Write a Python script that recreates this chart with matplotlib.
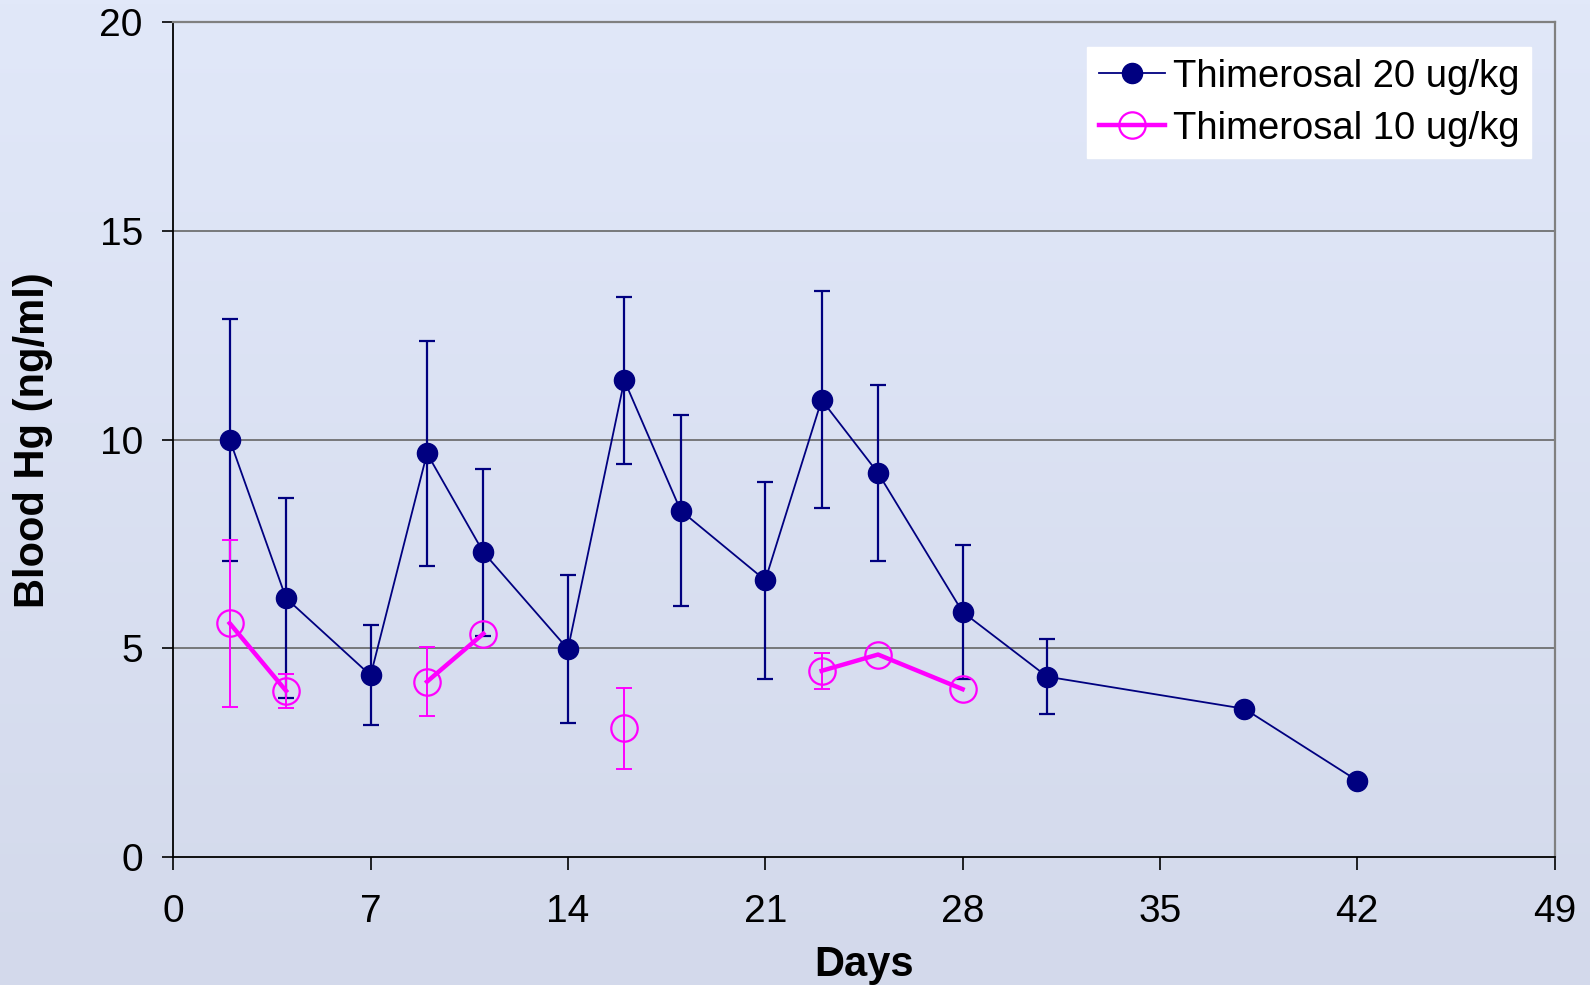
import numpy as np
import matplotlib
matplotlib.use('Agg')
import matplotlib.pyplot as plt

plt.rcParams['font.family'] = ['Liberation Sans', 'DejaVu Sans']

nan = np.nan
# Thimerosal 20 ug/kg
days_20 = [2, 4, 7, 9, 11, 14, 16, 18, 21, 23, 25, 28, 31, 38, 42]
hg_20 = [10.0, 6.2, 4.35, 9.67, 7.3, 4.98, 11.42, 8.3, 6.63, 10.95, 9.2, 5.87, 4.32, 3.55, 1.83]
err_20 = [2.9, 2.4, 1.2, 2.7, 2.0, 1.78, 2.0, 2.28, 2.36, 2.6, 2.1, 1.6, 0.9, nan, nan]

# Thimerosal 10 ug/kg
days_10 = [2, 4, 7, 9, 11, 14, 16, 18, 21, 23, 25, 28]
hg_10 = [5.6, 3.98, nan, 4.2, 5.35, nan, 3.08, nan, nan, 4.46, 4.85, 4.02]
err_10 = [2.0, 0.4, nan, 0.83, nan, nan, 0.97, nan, nan, 0.43, nan, nan]

labels = ['Thimerosal 20 ug/kg', 'Thimerosal 10 ug/kg']
x_ticks = [0, 7, 14, 21, 28, 35, 42, 49]
y_ticks = [0, 5, 10, 15, 20]

navy = '#000080'
magenta = '#FF00FF'

fig = plt.figure(figsize=(15.9, 9.85), dpi=100)

# gradient background
bg = fig.add_axes([0, 0, 1, 1], zorder=-10)
top = np.array([225, 232, 249]) / 255.0
bot = np.array([211, 217, 235]) / 255.0
t = np.linspace(0, 1, 256)[:, None]
grad = top[None, :] * (1 - t) + bot[None, :] * t
bg.imshow(grad[:, None, :], aspect='auto', extent=[0, 1, 0, 1])
bg.axis('off')

ax = fig.add_axes([0.109, 0.130, 0.8687, 0.8474])
ax.set_facecolor('none')

ax.errorbar(days_20, hg_20, yerr=err_20, fmt='none', ecolor=navy, elinewidth=1.6,
            capsize=6, capthick=1.6, zorder=3)
ax.plot(days_20, hg_20, color=navy, lw=1.3, marker='o', ms=14.5, mfc=navy, mec=navy,
        label=labels[0], zorder=4)

ax.errorbar(days_10, hg_10, yerr=err_10, fmt='none', ecolor=magenta, elinewidth=1.4,
            capsize=6, capthick=1.4, zorder=5)
ax.plot(days_10, hg_10, color=magenta, lw=3.2, marker='o', ms=19, mfc='none', mec=magenta,
        mew=1.6, label=labels[1], zorder=6)

ax.set_xlim(0, 49)
ax.set_ylim(0, 20)
ax.set_xticks(x_ticks)
ax.set_yticks(y_ticks)
ax.set_xticklabels([str(v) for v in x_ticks])
ax.set_yticklabels([str(v) for v in y_ticks])

for v in [5, 10, 15]:
    ax.axhline(v, color='#666666', lw=1.2, zorder=1)

for s in ['left', 'bottom']:
    ax.spines[s].set_color('black')
    ax.spines[s].set_linewidth(1.3)
for s in ['top', 'right']:
    ax.spines[s].set_color('#808080')
    ax.spines[s].set_linewidth(1.6)

ax.tick_params(axis='x', direction='out', length=9, width=1.2, pad=18, labelsize=28)
ax.tick_params(axis='y', direction='out', length=8, width=1.2, pad=14, labelsize=28)

fig.text(864 / 1590, 1 - 965 / 985, 'Days', fontsize=30, fontweight='bold',
         ha='center', va='center')
fig.text(33 / 1590, 1 - 440 / 985, 'Blood Hg (ng/ml)', fontsize=30, fontweight='bold',
         ha='center', va='center', rotation=90)

leg = ax.legend(loc='upper right', bbox_to_anchor=(0.963, 0.952),
                bbox_transform=fig.transFigure, fontsize=27.5, frameon=True,
                fancybox=False, framealpha=1, edgecolor='white', facecolor='white',
                handlelength=1.75, handletextpad=0.2, borderpad=0.3, labelspacing=0.42,
                borderaxespad=0)

fig.savefig('out.png', dpi=100)
